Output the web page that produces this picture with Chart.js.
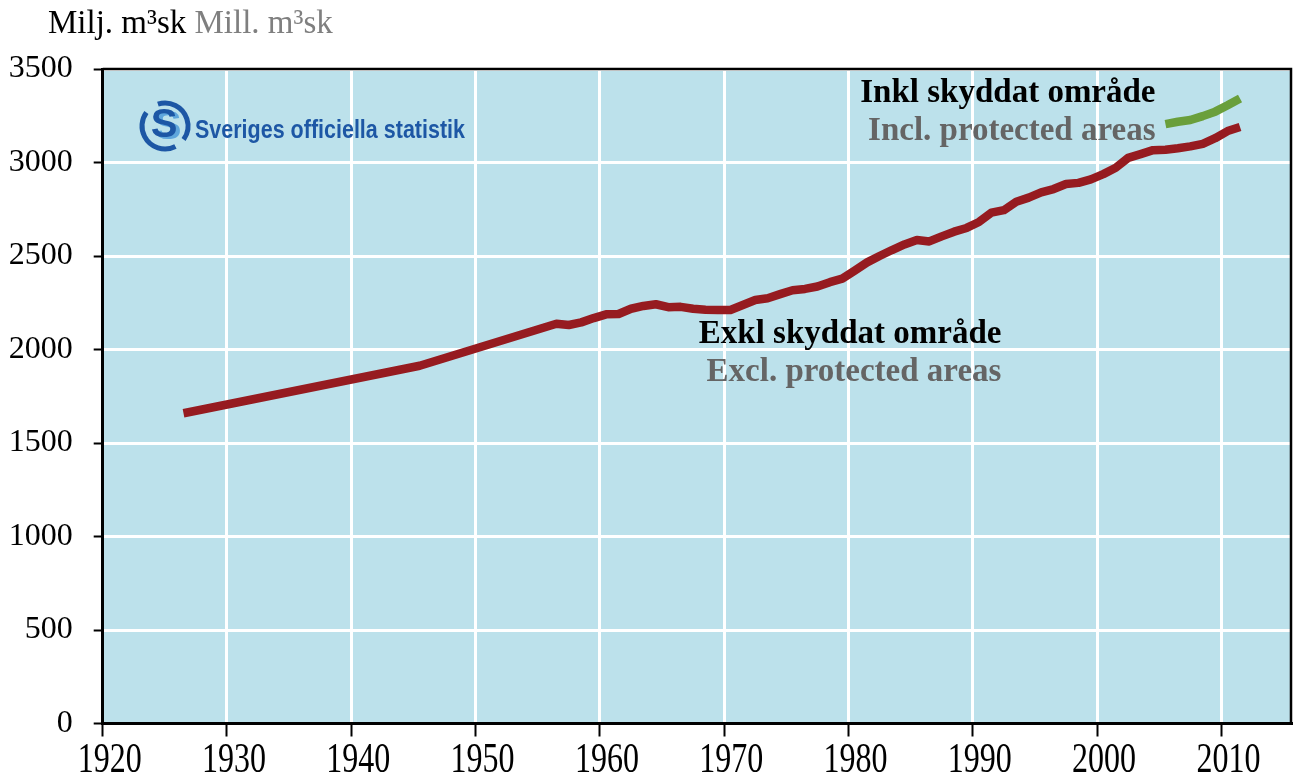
<!DOCTYPE html>
<html>
<head>
<meta charset="utf-8">
<script src="https://cdn.jsdelivr.net/npm/chart.js@4.4.0/dist/chart.umd.min.js"></script>
<style>
    html, body { margin: 0; padding: 0; background: #fff; }
    #wrap { width: 1295px; height: 782px; }
</style>
</head>
<body>
<div id="wrap"><canvas id="stockChart" width="1295" height="782"></canvas></div>
<script>
// Standing volume, million m3sk (5-yr centred years)
const YEARS_EXKL = [
    1926.5, 1945.5, 1956.5, 1957.5, 1958.5, 1959.5, 1960.5, 1961.5, 1962.5, 1963.5,
    1964.5, 1965.5, 1966.5, 1967.5, 1968.5, 1969.5, 1970.5, 1971.5, 1972.5, 1973.5,
    1974.5, 1975.5, 1976.5, 1977.5, 1978.5, 1979.5, 1980.5, 1981.5, 1982.5, 1983.5,
    1984.5, 1985.5, 1986.5, 1987.5, 1988.5, 1989.5, 1990.5, 1991.5, 1992.5, 1993.5,
    1994.5, 1995.5, 1996.5, 1997.5, 1998.5, 1999.5, 2000.5, 2001.5, 2002.5, 2003.5,
    2004.5, 2005.5, 2006.5, 2007.5, 2008.5, 2009.5, 2010.5, 2011.5
];
const VOLUME_EXKL = [
    1659, 1913, 2138, 2131, 2145, 2168, 2188, 2190, 2218, 2233,
    2242, 2226, 2228, 2218, 2213, 2211, 2211, 2238, 2265, 2274,
    2296, 2317, 2324, 2337, 2360, 2379, 2422, 2466, 2500, 2532,
    2562, 2586, 2578, 2605, 2630, 2650, 2682, 2732, 2745, 2790,
    2812, 2840, 2858, 2885, 2891, 2910, 2938, 2972, 3025, 3045,
    3066, 3068, 3076, 3086, 3100, 3130, 3168, 3190
];
const YEARS_INKL = [2005.5, 2006.5, 2007.5, 2008.5, 2009.5, 2010.5, 2011.5];
const VOLUME_INKL = [3205, 3218, 3227, 3248, 3272, 3306, 3342];

const THEME = {
    plotBg: '#bce1eb',
    grid: '#ffffff',
    axis: '#000000',
    exkl: '#961b20',
    inkl: '#6a9f3b',
    gray: '#656565',
    unitGray: '#7f7f7f',
    sosBlue: '#1d57a5',
    sosLight: '#5fa6dc'
};
const SERIF = "'Liberation Serif', 'Times New Roman', serif";

const toPoints = (xs, ys) => xs.map((x, i) => ({ x: x, y: ys[i] }));

const plotBackground = {
    id: 'plotBackground',
    beforeDraw(chart) {
        const { ctx, chartArea: a } = chart;
        ctx.save();
        ctx.fillStyle = THEME.plotBg;
        ctx.fillRect(a.left, a.top, a.right - a.left, a.bottom - a.top);
        ctx.restore();
    }
};

function drawLogo(ctx, cx, cy) {
    ctx.save();
    ctx.lineWidth = 5;
    ctx.strokeStyle = THEME.sosBlue;
    ctx.beginPath(); ctx.arc(cx, cy, 23, Math.PI * 0.35, Math.PI * 1.2); ctx.stroke();
    ctx.beginPath(); ctx.arc(cx, cy, 23, Math.PI * 1.4, Math.PI * 2.2); ctx.stroke();
    ctx.font = "bold 40px 'Liberation Sans', sans-serif";
    ctx.textAlign = 'center';
    ctx.textBaseline = 'middle';
    ctx.fillStyle = THEME.sosLight;
    ctx.fillText('S', cx + 3, cy + 2);
    ctx.fillStyle = THEME.sosBlue;
    ctx.fillText('S', cx - 1, cy);

    const txt = 'Sveriges officiella statistik';
    ctx.font = "bold 25px 'Liberation Sans', sans-serif";
    ctx.textAlign = 'left';
    ctx.textBaseline = 'alphabetic';
    const w = ctx.measureText(txt).width;
    ctx.translate(cx + 30, cy + 12);
    ctx.scale(270 / w, 1);
    ctx.fillText(txt, 0, 0);
    ctx.restore();
}

const decorations = {
    id: 'decorations',
    afterDraw(chart) {
        const { ctx, chartArea: a, scales: { x, y } } = chart;
        ctx.save();

        // top + right frame
        ctx.strokeStyle = THEME.axis;
        ctx.lineWidth = 2.5;
        ctx.beginPath();
        ctx.moveTo(a.left, a.top);
        ctx.lineTo(a.right, a.top);
        ctx.lineTo(a.right, a.bottom);
        ctx.stroke();

        // x tick labels (taller than wide in the original)
        ctx.font = `32px ${SERIF}`;
        ctx.fillStyle = '#000';
        ctx.textAlign = 'center';
        ctx.textBaseline = 'middle';
        x.ticks.forEach(t => {
            ctx.save();
            ctx.translate(x.getPixelForValue(t.value) + 7, a.bottom + 38);
            ctx.scale(1, 1.3);
            ctx.fillText(String(t.value), 0, 0);
            ctx.restore();
        });

        // unit line
        ctx.textAlign = 'left';
        ctx.textBaseline = 'alphabetic';
        ctx.font = `33px ${SERIF}`;
        ctx.fillStyle = '#000';
        const first = 'Milj. m³sk ';
        ctx.fillText(first, 48, 33);
        ctx.fillStyle = THEME.unitGray;
        ctx.fillText('Mill. m³sk', 48 + ctx.measureText(first).width, 33);

        // series labels
        ctx.textAlign = 'right';
        ctx.font = `bold 33px ${SERIF}`;
        ctx.fillStyle = '#000';
        ctx.fillText('Inkl skyddat område', x.getPixelForValue(2004.7), y.getPixelForValue(3325));
        ctx.fillStyle = THEME.gray;
        ctx.fillText('Incl. protected areas', x.getPixelForValue(2004.7), y.getPixelForValue(3118));
        ctx.fillStyle = '#000';
        ctx.fillText('Exkl skyddat område', x.getPixelForValue(1992.3), y.getPixelForValue(2033));
        ctx.fillStyle = THEME.gray;
        ctx.fillText('Excl. protected areas', x.getPixelForValue(1992.3), y.getPixelForValue(1833));

        drawLogo(ctx, 165, 126);
        ctx.restore();
    }
};

new Chart(document.getElementById('stockChart'), {
    type: 'line',
    data: {
        datasets: [
            {
                label: 'Exkl skyddat område',
                data: toPoints(YEARS_EXKL, VOLUME_EXKL),
                borderColor: THEME.exkl,
                borderWidth: 8.5,
                borderJoinStyle: 'round',
                pointRadius: 0,
                tension: 0
            },
            {
                label: 'Inkl skyddat område',
                data: toPoints(YEARS_INKL, VOLUME_INKL),
                borderColor: THEME.inkl,
                borderWidth: 8.5,
                borderJoinStyle: 'round',
                pointRadius: 0,
                tension: 0
            }
        ]
    },
    options: {
        responsive: false,
        animation: false,
        layout: { padding: { left: -12.3, right: 4, top: 69, bottom: 45.5 } },
        plugins: { legend: { display: false }, tooltip: { enabled: false } },
        scales: {
            x: {
                type: 'linear',
                min: 1920, max: 2015.6,
                grid: { color: THEME.grid, lineWidth: 3, tickColor: THEME.axis, tickWidth: 2, tickLength: 13 },
                border: { color: THEME.axis, width: 3 },
                ticks: { stepSize: 10, includeBounds: false, display: false }
            },
            y: {
                min: 0, max: 3500,
                grid: { color: THEME.grid, lineWidth: 3, tickColor: THEME.axis, tickWidth: 2, tickLength: 9 },
                border: { color: THEME.axis, width: 3 },
                ticks: {
                    stepSize: 500, padding: 21, color: '#000',
                    font: { family: SERIF, size: 32 },
                    callback: v => String(v)
                }
            }
        }
    },
    plugins: [plotBackground, decorations]
});
</script>
</body>
</html>
